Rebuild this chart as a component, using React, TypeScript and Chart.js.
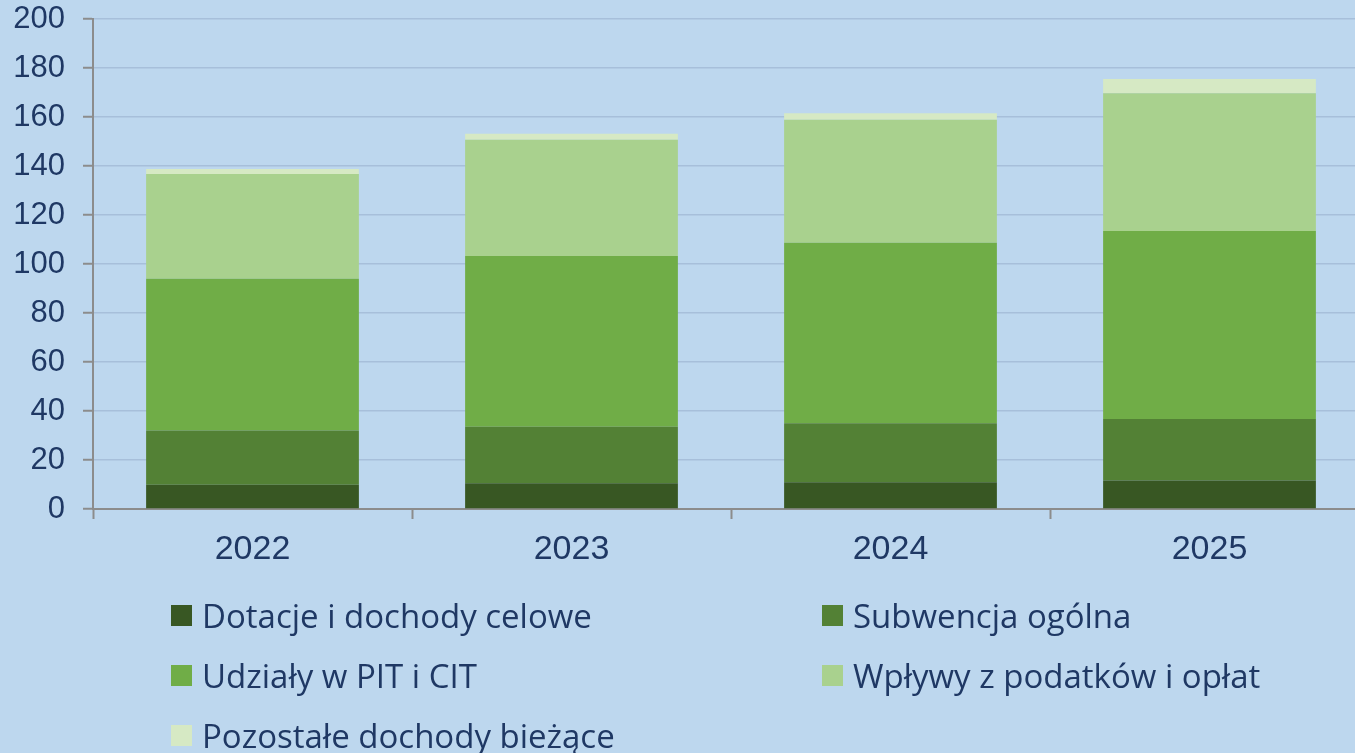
import React, { useEffect, useRef } from 'react';
import { Chart, registerables } from 'chart.js';

Chart.register(...registerables);

const categories = ['2022', '2023', '2024', '2025'];
const dotacje = [9.9, 10.5, 10.9, 11.6];
const subwencja = [22.1, 23.1, 24.1, 25.1];
const udzialy = [62.0, 69.7, 73.7, 76.8];
const wplywy = [42.7, 47.4, 50.2, 56.2];
const pozostale = [2.1, 2.5, 2.6, 5.8];

const seriesLabels = [
  'Dotacje i dochody celowe',
  'Subwencja ogólna',
  'Udziały w PIT i CIT',
  'Wpływy z podatków i opłat',
  'Pozostałe dochody bieżące',
];
const seriesValues = [dotacje, subwencja, udzialy, wplywy, pozostale];
const seriesColors = ['#385723', '#538135', '#70AD47', '#A9D18E', '#D6E9C4'];

const TEXT = '#1F3864';
const AXIS = '#8C8C8C';
const BG = '#BDD7EE';

// legend layout: [left, centerY] per series
const legendPos: [number, number][] = [
  [171, 615],
  [822, 615],
  [171, 675],
  [822, 675],
  [171, 735],
];

export default function App() {
  const ref = useRef<HTMLCanvasElement>(null);

  useEffect(() => {
    if (!ref.current) return;
    const chart = new Chart(ref.current, {
      type: 'bar',
      data: {
        labels: categories,
        datasets: seriesLabels.map((label, i) => ({
          label,
          data: seriesValues[i],
          backgroundColor: seriesColors[i],
          borderWidth: 0,
          categoryPercentage: 1,
          barPercentage: 0.667,
        })),
      },
      options: {
        animation: false,
        responsive: false,
        layout: { padding: { top: 19, left: 0, right: 1, bottom: 0 } },
        plugins: { legend: { display: false }, tooltip: { enabled: false } },
        scales: {
          x: {
            stacked: true,
            offset: true,
            grid: {
              offset: true,
              drawOnChartArea: false,
              drawTicks: true,
              tickLength: 10,
              tickColor: AXIS,
              tickWidth: 2,
            },
            border: { color: AXIS, width: 2 },
            ticks: {
              color: TEXT,
              font: { family: 'Liberation Sans', size: 34 },
              padding: 10,
            },
            afterFit: (s: any) => {
              s.height = 244;
              s.paddingLeft = 0;
              s.paddingRight = 0;
            },
          },
          y: {
            stacked: true,
            min: 0,
            max: 200,
            ticks: {
              stepSize: 20,
              color: TEXT,
              font: { family: 'Liberation Sans', size: 31 },
              padding: 18,
            },
            grid: {
              color: '#A7BFDA',
              lineWidth: 1.5,
              tickLength: 10,
              tickColor: AXIS,
              tickWidth: 2,
            },
            border: { color: AXIS, width: 2 },
            afterFit: (s: any) => {
              s.width = 93;
              s.paddingTop = 0;
              s.paddingBottom = 0;
            },
          },
        },
      },
    });
    return () => chart.destroy();
  }, []);

  return (
    <div
      style={{
        position: 'fixed',
        left: 0,
        top: 0,
        width: 1355,
        height: 753,
        overflow: 'hidden',
        background: BG,
      }}
    >
      <canvas ref={ref} width={1370} height={753} style={{ display: 'block', position: 'absolute', left: 0, top: 0 }} />
      {seriesLabels.map((label, i) => (
        <div
          key={label}
          style={{
            position: 'absolute',
            left: legendPos[i][0],
            top: legendPos[i][1] - 25,
            height: 50,
            display: 'flex',
            alignItems: 'center',
            whiteSpace: 'nowrap',
            fontFamily: "'Open Sans', 'Noto Sans', sans-serif",
            fontSize: 33,
            color: TEXT,
          }}
        >
          <span style={{ display: 'inline-block', width: 21, height: 21, background: seriesColors[i], marginRight: 10 }} />
          <span>{label}</span>
        </div>
      ))}
    </div>
  );
}
